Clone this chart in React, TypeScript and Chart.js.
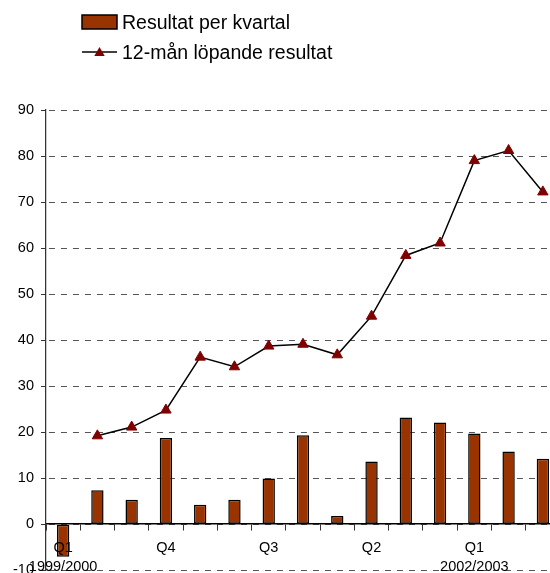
import React, { useEffect, useRef } from 'react';
import { Chart, registerables } from 'chart.js';

Chart.register(...registerables);

// ---- data ----
const quarterTicks = ['Q1', '', '', 'Q4', '', '', 'Q3', '', '', 'Q2', '', '', 'Q1', '', ''];
const yearTicks = ['1999/2000', '', '', '', '', '', '', '', '', '', '', '', '2002/2003', '', ''];
const barLabel = 'Resultat per kvartal';
const lineLabel = '12-mån löpande resultat';
const barValues = [-7.1, 7.4, 5.3, 18.7, 4.2, 5.3, 9.9, 19.3, 1.8, 13.6, 23.2, 22.1, 19.7, 15.8, 14.2];
const lineValues = [null, 19.2, 21.1, 24.8, 36.3, 34.2, 38.7, 39.1, 36.8, 45.2, 58.4, 61.1, 79.0, 81.2, 72.2];
const yMin = -10;
const yMax = 90;
const yStep = 10;

const FONT = '"Liberation Sans", Arial, Helvetica, sans-serif';
const BAR_COLOR = '#993300';
const MARKER_COLOR = '#800000';

const labels = quarterTicks.map((q, i) => [q, yearTicks[i]]);

const legendPlugin = {
  id: 'customLegend',
  afterDraw(chart: any) {
    const ctx = chart.ctx;
    ctx.save();
    // bar entry
    ctx.fillStyle = BAR_COLOR;
    ctx.fillRect(82, 15, 35, 14);
    ctx.strokeStyle = '#000';
    ctx.lineWidth = 1.5;
    ctx.strokeRect(82, 15, 35, 14);
    // line entry
    ctx.beginPath();
    ctx.moveTo(82, 52);
    ctx.lineTo(117, 52);
    ctx.strokeStyle = '#000';
    ctx.lineWidth = 1.5;
    ctx.stroke();
    const r = 6;
    const cx = 99.5;
    const cy = 53;
    ctx.beginPath();
    ctx.moveTo(cx, cy - r);
    ctx.lineTo(cx + r * 0.866, cy + r / 2);
    ctx.lineTo(cx - r * 0.866, cy + r / 2);
    ctx.closePath();
    ctx.fillStyle = MARKER_COLOR;
    ctx.fill();
    // texts
    ctx.fillStyle = '#000';
    ctx.font = `19.5px ${FONT}`;
    ctx.textAlign = 'left';
    ctx.textBaseline = 'alphabetic';
    ctx.fillText(barLabel, 122, 28.5);
    ctx.fillText(lineLabel, 122, 58.5);
    ctx.restore();
  },
};

export default function App() {
  const ref = useRef<HTMLCanvasElement | null>(null);

  useEffect(() => {
    if (!ref.current) return;
    const chart = new Chart(ref.current, {
      type: 'bar',
      data: {
        labels,
        datasets: [
          {
            type: 'line',
            label: lineLabel,
            data: lineValues,
            borderColor: '#000',
            borderWidth: 1.5,
            pointStyle: 'triangle',
            pointRadius: 6,
            pointBackgroundColor: MARKER_COLOR,
            pointBorderColor: MARKER_COLOR,
            pointBorderWidth: 1,
            tension: 0,
            fill: false,
            order: 0,
          } as any,
          {
            type: 'bar',
            label: barLabel,
            data: barValues,
            backgroundColor: BAR_COLOR,
            borderColor: '#000',
            borderWidth: 1.5,
            borderSkipped: false,
            categoryPercentage: 1,
            barPercentage: 0.36,
            order: 1,
          } as any,
        ],
      },
      options: {
        responsive: false,
        animation: false,
        layout: { padding: { top: 110, left: 0, right: 10, bottom: 29.8 } },
        plugins: {
          legend: { display: false },
          tooltip: { enabled: false },
        },
        scales: {
          x: {
            type: 'category',
            position: { y: 0 } as any,
            offset: true,
            grid: {
              display: true,
              offset: true,
              drawOnChartArea: false,
              drawTicks: true,
              tickLength: 6,
              color: '#333',
              lineWidth: 1,
            },
            border: { display: true, color: '#000', width: 1.5 },
            ticks: {
              z: 1,
              autoSkip: false,
              maxRotation: 0,
              minRotation: 0,
              padding: 8.3,
              color: '#000',
              font: { family: FONT, size: 14.5, lineHeight: 1.3 },
            } as any,
          },
          y: {
            min: yMin,
            max: yMax,
            ticks: {
              stepSize: yStep,
              padding: 7,
              color: '#000',
              font: { family: FONT, size: 14.5 },
            },
            grid: {
              color: '#555',
              lineWidth: 1,
              tickLength: 5,
              tickColor: '#333',
              tickBorderDash: [],
            } as any,
            border: { display: true, color: '#333', width: 1.25, dash: [6, 6], dashOffset: 9.3 },
            afterFit: (s: any) => {
              s.width = 46;
            },
          },
        },
      },
      plugins: [legendPlugin],
    });
    return () => chart.destroy();
  }, []);

  return (
    <div style={{ position: 'absolute', left: 0, top: 0, width: 550, height: 573, overflow: 'hidden', background: '#fff' }}>
      <canvas ref={ref} width={570} height={600} style={{ display: 'block' }} />
    </div>
  );
}
